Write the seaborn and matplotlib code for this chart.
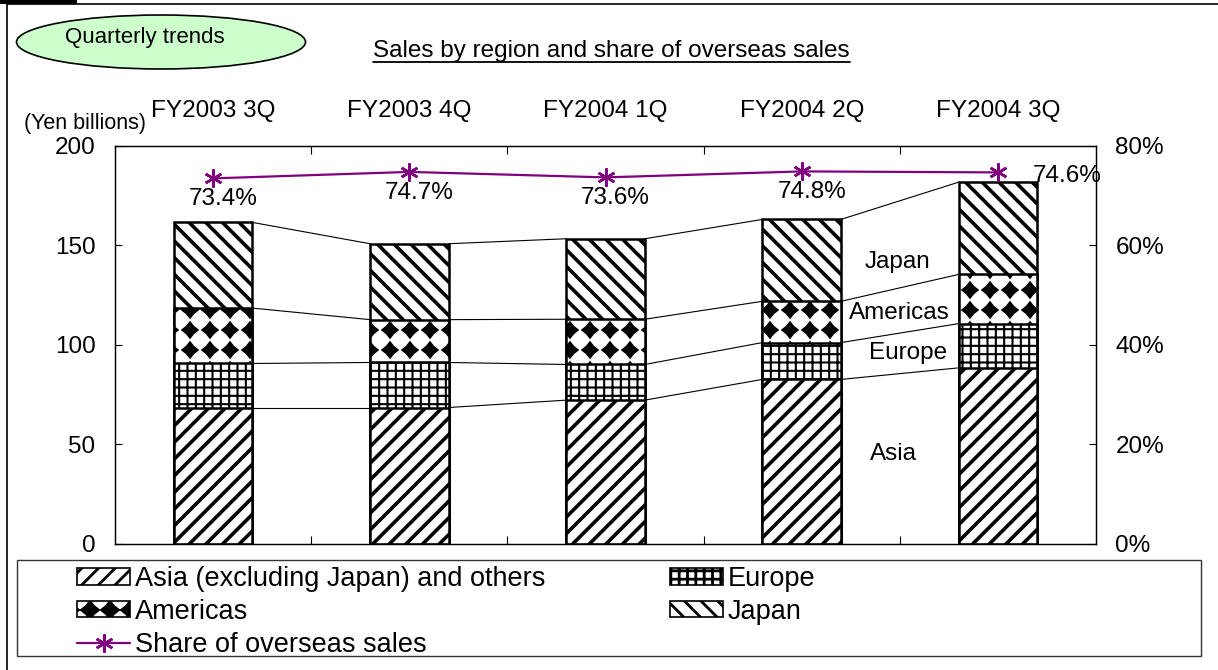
import numpy as np
import pandas as pd
import matplotlib
matplotlib.use("Agg")
import matplotlib.pyplot as plt
import matplotlib.hatch as mhatch
from matplotlib.path import Path
from matplotlib.patches import Patch, Ellipse, Rectangle
from matplotlib.lines import Line2D
from matplotlib.ticker import FuncFormatter
import seaborn as sns

# ---------------- data ----------------
quarters = ["FY2003 3Q", "FY2003 4Q", "FY2004 1Q", "FY2004 2Q", "FY2004 3Q"]
asia = [68.5, 68.5, 72.2, 82.6, 88.4]
europe = [22.1, 22.6, 17.9, 18.5, 22.2]
americas = [27.8, 21.5, 22.7, 20.7, 24.7]
japan = [43.0, 38.1, 40.4, 41.1, 46.3]
overseas_share = [73.4, 74.7, 73.6, 74.8, 74.6]
left_ticks = [0, 50, 100, 150, 200]
right_ticks = [0, 20, 40, 60, 80]
series_names = ["Asia (excluding Japan) and others", "Europe", "Americas", "Japan"]
share_name = "Share of overseas sales"


# ---------------- custom diamond hatch (replaces '*') ----------------
class _Diamonds(mhatch.HatchPatternBase):
    size = 0.42

    def __init__(self, hatch, density):
        self.n = hatch.count("*") * 5
        self.shape = Path.unit_regular_star(4, innerCircle=0.62).vertices
        self.num_vertices = self.n * self.n * len(self.shape) if self.n else 0

    def set_vertices_and_codes(self, vertices, codes):
        n = self.n
        k = len(self.shape)
        c = (np.arange(n) + 0.5) / n
        cx, cy = np.meshgrid(c, c)
        centers = np.stack([cx.ravel(), cy.ravel()], axis=1)
        pts = self.shape[None, :, :] * (self.size / n) + centers[:, None, :]
        vertices[:] = pts.reshape(-1, 2)
        cc = np.full(k, Path.LINETO, dtype=Path.code_type)
        cc[0] = Path.MOVETO
        cc[-1] = Path.CLOSEPOLY
        codes[:] = np.tile(cc, n * n)


mhatch._hatch_types = [(_Diamonds if t is mhatch.Stars else t) for t in mhatch._hatch_types]

# ---------------- style ----------------
sns.set_theme(style="white", rc={"hatch.linewidth": 2.0, "axes.edgecolor": "black"})
plt.rcParams["font.family"] = ["Liberation Sans", "DejaVu Sans"]
plt.rcParams["text.color"] = "black"
plt.rcParams["xtick.color"] = "black"
plt.rcParams["ytick.color"] = "black"

W, H = 1218, 670
FS = 17.5
PURPLE = "#800080"
HATCH = {"asia": ("//", 2.6), "europe": ("++", 1.5), "americas": ("*", 0.8),
         "japan": ("\\\\", 2.6)}


def fx(px):
    return px / W


def fy(py):
    return 1 - py / H


fig = plt.figure(figsize=(W / 100, H / 100), dpi=100)
fig.patch.set_facecolor("white")
ax = fig.add_axes([fx(115), fy(544), (1096 - 115) / W, (544 - 145.5) / H])

df = pd.DataFrame({"quarter": quarters, "asia": asia, "europe": europe,
                   "americas": americas, "japan": japan})
df["c1"] = df["asia"]
df["c2"] = df["c1"] + df["europe"]
df["c3"] = df["c2"] + df["americas"]
df["c4"] = df["c3"] + df["japan"]

BAR_W = 0.4
layers = [("c4", "japan"), ("c3", "americas"), ("c2", "europe"), ("c1", "asia")]
for col, key in layers:
    hatch, hlw = HATCH[key]
    n0 = len(ax.patches)
    sns.barplot(data=df, x="quarter", y=col, color="white", edgecolor="black",
                linewidth=1.8, hatch=hatch, width=BAR_W, errorbar=None,
                saturation=1, ax=ax)
    for p in ax.patches[n0:]:
        p.set_facecolor("white")
        if hasattr(p, "set_hatch_linewidth"):
            p.set_hatch_linewidth(hlw)

# connector lines between stacked levels
for col in ["c1", "c2", "c3", "c4"]:
    vals = df[col].to_numpy()
    for i in range(len(vals) - 1):
        ax.plot([i + BAR_W / 2, i + 1 - BAR_W / 2], [vals[i], vals[i + 1]],
                color="black", lw=0.8, zorder=1)

# region labels between 4th and 5th bar
for name, (xx, yy) in zip(["Japan", "Americas", "Europe", "Asia"],
                          [(3.49, 141.4), (3.5, 115.8), (3.54, 95.7), (3.47, 45.1)]):
    ax.text(xx, yy, name, ha="center", va="center", fontsize=FS)

ax.set_xlim(-0.5, len(quarters) - 0.5)
ax.set_ylim(0, 200)
ax.set_yticks(left_ticks)
ax.set_xlabel("")
ax.set_ylabel("")
ax.tick_params(axis="y", direction="in", length=5, width=0.8, pad=14, labelsize=FS,
               left=True)
for s in ax.spines.values():
    s.set_visible(True)
    s.set_linewidth(0.9)
    s.set_color("black")

# share line on secondary axis
ax2 = ax.twinx()
idx = np.arange(len(quarters))
sns.lineplot(x=idx, y=overseas_share, ax=ax2, color=PURPLE, marker=(6, 2, 0),
             markersize=13, markeredgecolor=PURPLE, markeredgewidth=1.8,
             linewidth=1.6, legend=False)
ax2.set_ylim(0, 80)
ax2.set_yticks(right_ticks)
ax2.yaxis.set_major_formatter(FuncFormatter(lambda v, p: f"{v:.0f}%"))
ax2.tick_params(axis="y", direction="in", length=5, width=0.8, pad=14, labelsize=FS,
                right=True)
ax2.set_ylabel("")
for s in ax2.spines.values():
    s.set_linewidth(0.9)
    s.set_color("black")

for i, v in enumerate(overseas_share):
    last = i == len(overseas_share) - 1
    ax2.annotate(f"{v:.1f}%", (i, v), xytext=(35, -4) if last else (10, -21),
                 textcoords="offset pixels", ha="left" if last else "center",
                 va="center", fontsize=FS)

# category axis: labels on top, boundary ticks inside
ax.set_xlim(-0.5, len(quarters) - 0.5)
ax.set_xticks(idx)
ax.set_xticklabels(quarters)
ax.set_xticks(idx[:-1] + 0.5, minor=True)
ax.tick_params(axis="x", which="major", top=True, bottom=False, labeltop=True,
               labelbottom=False, length=0, pad=17, labelsize=FS)
ax.tick_params(axis="x", which="minor", top=True, bottom=True, direction="in",
               length=6, width=0.8)

# ---------------- decorations ----------------
fig.text(fx(85.5), fy(124), "(Yen billions)", ha="center", va="center", fontsize=15.5)

ell = Ellipse((fx(161), fy(42)), 289 / W, 54 / H, transform=fig.transFigure,
              facecolor="#ccffcc", edgecolor="black", lw=1.2)
fig.add_artist(ell)
fig.text(fx(145), fy(38), "Quarterly trends", ha="center", va="center", fontsize=16)

title = fig.text(fx(611.5), fy(57), "Sales by region and share of overseas sales",
                 ha="center", va="baseline", fontsize=FS)
fig.canvas.draw()
bb = title.get_window_extent()
fig.add_artist(Line2D([bb.x0 / W, bb.x1 / W], [fy(62), fy(62)],
                      transform=fig.transFigure, color="black", lw=1.3))

# outer frame and tab
fig.add_artist(Line2D([fx(7), fx(7), fx(1218)], [fy(670), fy(3.5), fy(3.5)],
                      transform=fig.transFigure, color="black", lw=1.2))
fig.add_artist(Rectangle((0, fy(4)), fx(77), 4 / H, transform=fig.transFigure,
                         facecolor="black", edgecolor="none"))

# legend box
fig.add_artist(Rectangle((fx(17), fy(656)), (1201 - 17) / W, (656 - 560) / H,
                         transform=fig.transFigure, fill=False,
                         edgecolor="#333333", lw=1.0))


def legend_patch(key):
    hatch, hlw = HATCH[key]
    h = Patch(facecolor="white", edgecolor="black", hatch=hatch, lw=1.2)
    if hasattr(h, "set_hatch_linewidth"):
        h.set_hatch_linewidth(hlw)
    return h


h_share = Line2D([], [], color=PURPLE, marker=(6, 2, 0), markersize=13,
                 markeredgewidth=1.8, lw=1.6)
handles = [legend_patch("asia"), legend_patch("americas"), h_share,
           legend_patch("europe"), legend_patch("japan")]
labels = [series_names[0], series_names[2], share_name, series_names[1], series_names[3]]
LFS = 19.5
fig.legend(handles, labels, loc="upper left", bbox_to_anchor=(fx(77), fy(566)),
           ncol=2, frameon=False, borderpad=0, borderaxespad=0, handlelength=1.96,
           handleheight=0.55, handletextpad=0.17, labelspacing=0.25,
           columnspacing=4.6, fontsize=LFS)

fig.savefig("out.png", dpi=100, facecolor="white")
